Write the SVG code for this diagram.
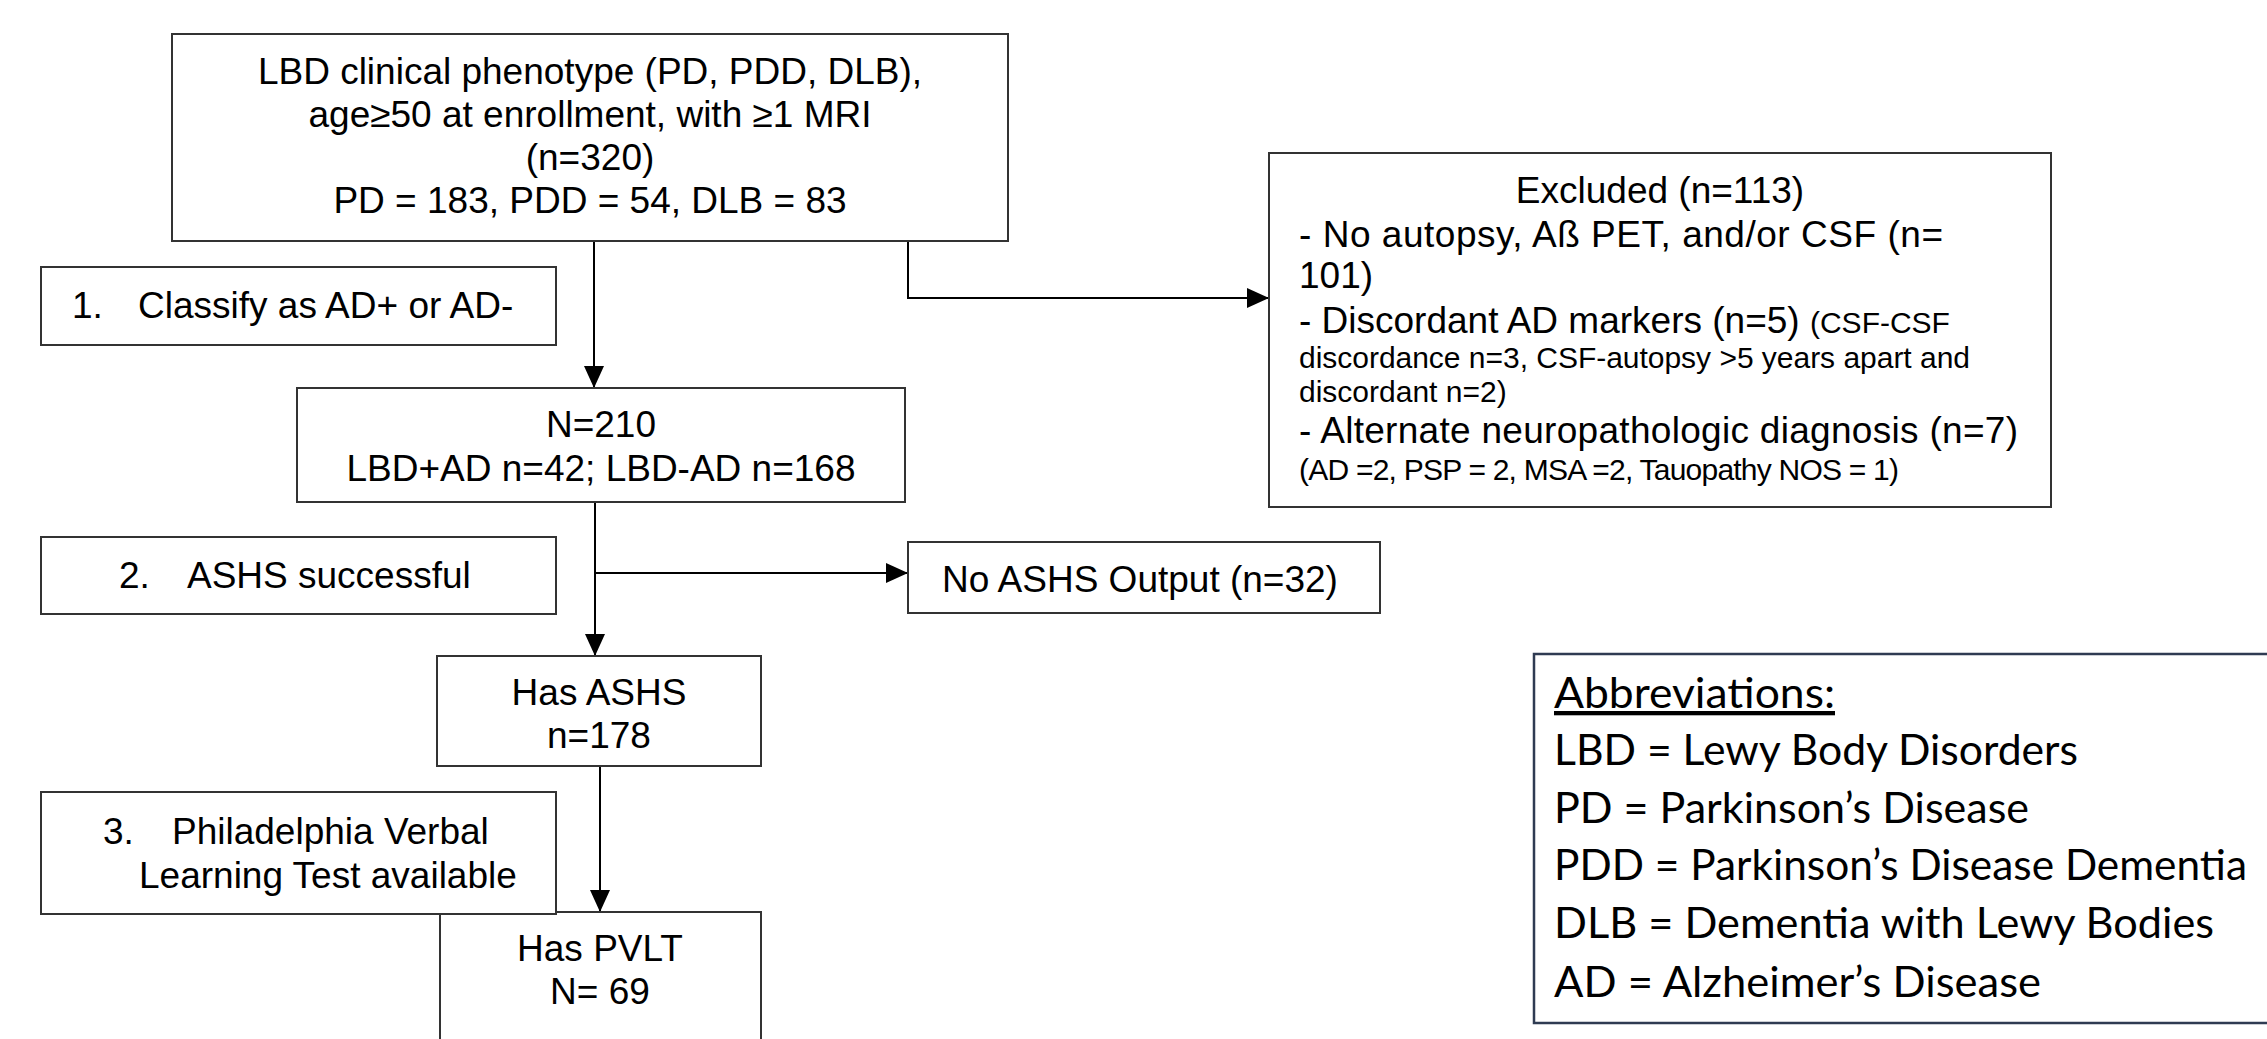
<svg xmlns="http://www.w3.org/2000/svg" width="2267" height="1039" viewBox="0 0 2267 1039">
<defs>
<marker id="ah" markerWidth="22" markerHeight="20" refX="22" refY="10" orient="auto" markerUnits="userSpaceOnUse"><path d="M0,0 L22,10 L0,20 Z" fill="#000"/></marker>
</defs>
<style>
.box{fill:#fff;stroke:#333;stroke-width:2}
.t{font-family:"Liberation Sans",Arial,sans-serif;font-size:37px;fill:#000}
.c{text-anchor:middle}
.s{font-size:30px}
.conn{fill:none;stroke:#000;stroke-width:2}
.abox{fill:#fff;stroke:#2f3b52;stroke-width:2.5}
.ab{font-family:Lato,"Open Sans",sans-serif;font-size:43px;fill:#000}
</style>
<rect width="2267" height="1039" fill="#fff"/>
<g id="connectors">
<path class="conn" d="M594,241 V388" marker-end="url(#ah)"/>
<path class="conn" d="M908,241 V298 H1269" marker-end="url(#ah)"/>
<path class="conn" d="M595,502 V656" marker-end="url(#ah)"/>
<path class="conn" d="M595,573 H908" marker-end="url(#ah)"/>
<path class="conn" d="M600,766 V912" marker-end="url(#ah)"/>
</g>
<g id="n-top">
<rect class="box" x="172" y="34" width="836" height="207"/>
<text class="t c" x="590" y="84">LBD clinical phenotype (PD, PDD, DLB),</text>
<text class="t c" x="590" y="127">age≥50 at enrollment, with ≥1 MRI</text>
<text class="t c" x="590" y="170">(n=320)</text>
<text class="t c" x="590" y="213">PD = 183, PDD = 54, DLB = 83</text>
</g>
<g id="n-step1">
<rect class="box" x="41" y="267" width="515" height="78"/>
<text class="t" x="72" y="318">1.</text>
<text class="t" x="138" y="318">Classify as AD+ or AD-</text>
</g>
<g id="n-210">
<rect class="box" x="297" y="388" width="608" height="114"/>
<text class="t c" x="601" y="437">N=210</text>
<text class="t c" x="601" y="481">LBD+AD n=42; LBD-AD n=168</text>
</g>
<g id="n-step2">
<rect class="box" x="41" y="537" width="515" height="77"/>
<text class="t" x="119" y="588">2.</text>
<text class="t" x="187" y="588">ASHS successful</text>
</g>
<g id="n-noashs">
<rect class="box" x="908" y="542" width="472" height="71"/>
<text class="t c" x="1140" y="592">No ASHS Output (n=32)</text>
</g>
<g id="n-hasashs">
<rect class="box" x="437" y="656" width="324" height="110"/>
<text class="t c" x="599" y="705">Has ASHS</text>
<text class="t c" x="599" y="748">n=178</text>
</g>
<g id="n-pvlt">
<rect class="box" x="440" y="912" width="321" height="150"/>
<text class="t c" x="600" y="961">Has PVLT</text>
<text class="t c" x="600" y="1004">N= 69</text>
</g>
<g id="n-step3">
<rect class="box" x="41" y="792" width="515" height="122"/>
<text class="t" x="103" y="844">3.</text>
<text class="t" x="172" y="844">Philadelphia Verbal</text>
<text class="t" x="139" y="888">Learning Test available</text>
</g>
<g id="n-excluded">
<rect class="box" x="1269" y="153" width="782" height="354"/>
<text class="t c" x="1660" y="203">Excluded (n=113)</text>
<text class="t" x="1299" y="247" textLength="644">- No autopsy, Aß PET, and/or CSF (n=</text>
<text class="t" x="1299" y="288">101)</text>
<text class="t" x="1299" y="333">- Discordant AD markers (n=5) <tspan class="s">(CSF-CSF</tspan></text>
<text class="t s" x="1299" y="368" textLength="671">discordance n=3, CSF-autopsy &gt;5 years apart and</text>
<text class="t s" x="1299" y="402">discordant n=2)</text>
<text class="t" x="1299" y="443" textLength="719">- Alternate neuropathologic diagnosis (n=7)</text>
<text class="t s" x="1299" y="480" textLength="600">(AD =2, PSP = 2, MSA =2, Tauopathy NOS = 1)</text>
</g>
<g id="n-abbrev">
<rect class="abox" x="1534" y="654" width="750" height="369"/>
<text class="ab" x="1554" y="708" textLength="281" lengthAdjust="spacingAndGlyphs" text-decoration="underline">Abbreviations:</text>
<text class="ab" x="1554" y="765" textLength="524" lengthAdjust="spacingAndGlyphs">LBD = Lewy Body Disorders</text>
<text class="ab" x="1554" y="823" textLength="475" lengthAdjust="spacingAndGlyphs">PD = Parkinson’s Disease</text>
<text class="ab" x="1554" y="880" textLength="693" lengthAdjust="spacingAndGlyphs">PDD = Parkinson’s Disease Dementia</text>
<text class="ab" x="1554" y="938" textLength="660" lengthAdjust="spacingAndGlyphs">DLB = Dementia with Lewy Bodies</text>
<text class="ab" x="1554" y="997" textLength="487" lengthAdjust="spacingAndGlyphs">AD = Alzheimer’s Disease</text>
</g>
</svg>
